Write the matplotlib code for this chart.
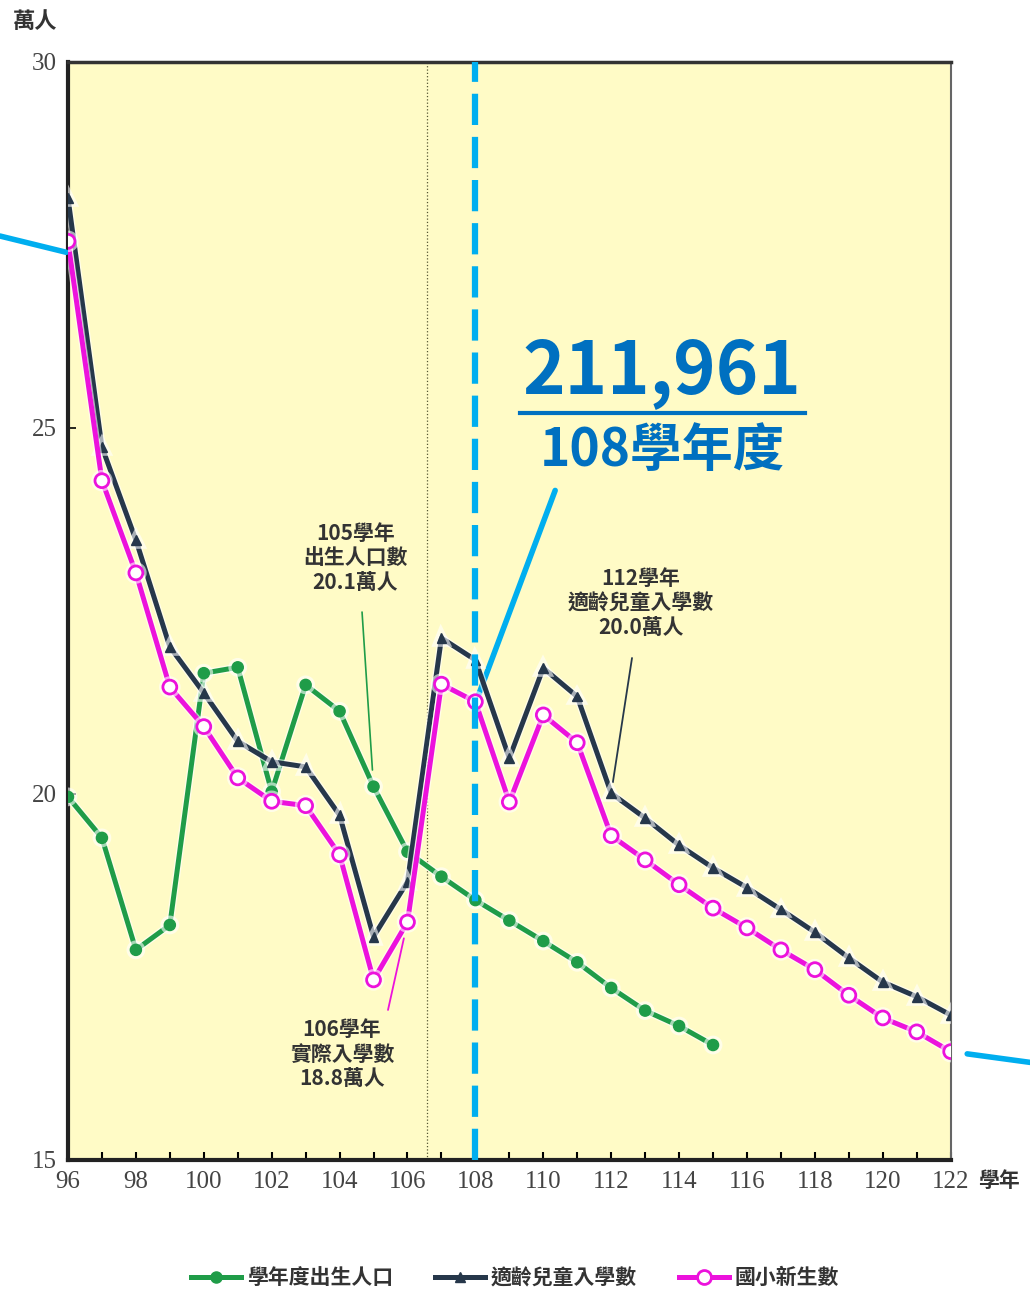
import matplotlib.pyplot as plt
import matplotlib.patheffects as pe
from matplotlib.lines import Line2D
from matplotlib.ticker import MultipleLocator

plt.rcParams['font.family'] = ['Noto Sans CJK TC', 'DejaVu Sans']

years = list(range(96, 123))
birth_years = list(range(96, 116))
birth = [19.96, 19.40, 17.87, 18.21, 21.65, 21.73, 20.03, 21.49, 21.13, 20.10,
         19.21, 18.87, 18.55, 18.27, 17.99, 17.70, 17.35, 17.04, 16.83, 16.57]
eligible = [28.14, 24.74, 23.47, 22.01, 21.38, 20.72, 20.44, 20.37, 19.71, 18.05,
            18.80, 22.13, 21.83, 20.49, 21.72, 21.33, 20.01, 19.67, 19.30, 18.99,
            18.72, 18.42, 18.11, 17.76, 17.43, 17.23, 16.98]
freshmen = [27.55, 24.28, 23.02, 21.46, 20.92, 20.22, 19.90, 19.84, 19.17, 17.46,
            18.25, 21.50, 21.26, 19.89, 21.08, 20.70, 19.43, 19.10, 18.76, 18.44,
            18.17, 17.87, 17.60, 17.25, 16.94, 16.75, 16.48]
labels = ['學年度出生人口', '適齡兒童入學數', '國小新生數']

GREEN = '#1f9c48'
NAVY = '#26374a'
PINK = '#ec12dc'
BLUE = '#00aeef'
DARKBLUE = '#0070c0'

fig = plt.figure(figsize=(10.3, 12.94), dpi=100)
ax = fig.add_axes([0.066, 0.1036, 0.857, 0.8485])
ax.set_facecolor('#fffbc6')

halo = [pe.Stroke(linewidth=5.5, foreground='white', alpha=0.6), pe.Normal()]
ax.plot(birth_years, birth, color=GREEN, lw=3.6, marker='o', ms=8,
        mec=GREEN, mfc=GREEN, path_effects=halo, zorder=3)
ax.plot(years, eligible, color=NAVY, lw=3.6, marker='^', ms=7,
        mec=NAVY, mfc=NAVY, path_effects=halo, zorder=4)
ax.plot(years, freshmen, color=PINK, lw=3.6, marker='o', ms=10,
        mec=PINK, mfc='white', mew=2, path_effects=halo, zorder=5)

ax.axvline(106.57, color='#555533', lw=0.9, ls=':', zorder=2)
ax.axvline(108.0, color=BLUE, lw=4.5, ls=(0, (5, 1.9)), zorder=6)

ax.set_xlim(96, 122)
ax.set_ylim(15, 30)
ax.xaxis.set_major_locator(MultipleLocator(2))
ax.xaxis.set_minor_locator(MultipleLocator(1))
ax.yaxis.set_major_locator(MultipleLocator(5))
ax.tick_params(axis='x', which='both', direction='in', length=6, width=1.5,
               labelsize=18, pad=8)
ax.tick_params(axis='y', direction='in', length=6, width=1.2, labelsize=18, pad=8)
for lab in ax.get_xticklabels() + ax.get_yticklabels():
    lab.set_family('Liberation Serif')
    lab.set_color('#444444')
for s in ['left', 'bottom']:
    ax.spines[s].set_linewidth(3)
    ax.spines[s].set_color('#222222')
ax.spines['top'].set_linewidth(2.5)
ax.spines['top'].set_color('#333333')
ax.spines['right'].set_linewidth(1.5)
ax.spines['right'].set_color('#666666')

fig.text(0.012, 0.983, '萬人', fontsize=16, fontweight='bold', color='#333333',
         va='center')
fig.text(0.95, 0.083, '學年', fontsize=15, fontweight='bold', color='#333333')

note = dict(fontsize=15, fontweight='bold', color='#333333', ha='center',
            va='center', linespacing=1.2)
fig.text(0.345, 0.5685, '105學年\n出生人口數\n20.1萬人', **note)
fig.text(0.332, 0.1855, '106學年\n實際入學數\n18.8萬人', **note)
fig.text(0.622, 0.534, '112學年\n適齡兒童入學數\n20.0萬人', **note)

ax.annotate('', xy=(105, birth[9]), xytext=(0.3515, 0.527),
            textcoords='figure fraction',
            arrowprops=dict(arrowstyle='-', color=GREEN, lw=1.2,
                            shrinkA=0, shrinkB=12))
ax.annotate('', xy=(106, freshmen[10]), xytext=(0.3767, 0.2195),
            textcoords='figure fraction',
            arrowprops=dict(arrowstyle='-', color=PINK, lw=1.3,
                            shrinkA=0, shrinkB=12))
ax.annotate('', xy=(112, eligible[16]), xytext=(0.6136, 0.4915),
            textcoords='figure fraction',
            arrowprops=dict(arrowstyle='-', color=NAVY, lw=1.3,
                            shrinkA=0, shrinkB=8))

# callout
fig.text(0.643, 0.7125, '211,961', fontsize=52, fontweight='semibold',
         color=DARKBLUE, ha='center', va='center')
fig.add_artist(Line2D([0.505, 0.782], [0.681, 0.681], color=DARKBLUE, lw=3))
fig.text(0.643, 0.652, '108學年度', fontsize=37, fontweight='semibold',
         color=DARKBLUE, ha='center', va='center')
ax.annotate('', xy=(108.05, 21.3), xytext=(0.539, 0.621),
            textcoords='figure fraction',
            arrowprops=dict(arrowstyle='-', color=BLUE, lw=4, shrinkA=0, shrinkB=0))
ax.annotate('', xy=(95.95, 27.4), xytext=(0.0, 0.8176),
            textcoords='figure fraction', annotation_clip=False,
            arrowprops=dict(arrowstyle='-', color=BLUE, lw=4, shrinkA=0, shrinkB=0))
ax.annotate('', xy=(122, freshmen[-1]), xytext=(1.0, 0.179),
            textcoords='figure fraction', annotation_clip=False,
            arrowprops=dict(arrowstyle='-', color=BLUE, lw=4, shrinkA=0, shrinkB=12))

handles = [
    Line2D([], [], color=GREEN, lw=3.6, marker='o', ms=8, mfc=GREEN, mec=GREEN),
    Line2D([], [], color=NAVY, lw=3.6, marker='^', ms=7, mfc=NAVY, mec=NAVY),
    Line2D([], [], color=PINK, lw=3.6, marker='o', ms=10, mfc='white', mec=PINK, mew=2),
]
leg = fig.legend(handles, labels, loc='lower center', bbox_to_anchor=(0.5, -0.01),
                 ncol=3, frameon=False, handlelength=2.4, handletextpad=0.3,
                 columnspacing=2.0, prop={'size': 15, 'weight': 'bold'})
for t in leg.get_texts():
    t.set_color('#333333')

fig.savefig('out.png', dpi=100)
